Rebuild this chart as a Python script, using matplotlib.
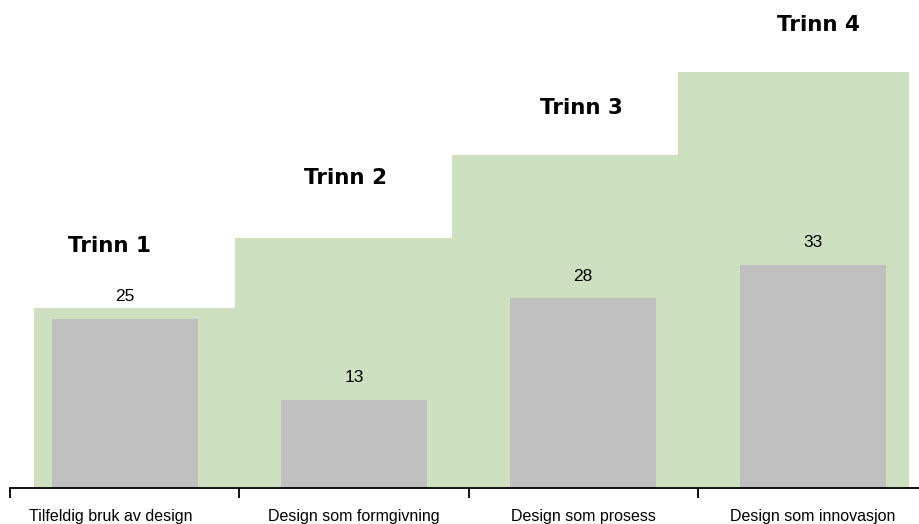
import numpy as np
import matplotlib.pyplot as plt
from matplotlib.transforms import ScaledTranslation

# Data.
categories = ['Tilfeldig bruk av design', 'Design som formgivning',
              'Design som prosess', 'Design som innovasjon']
values = [25, 13, 28, 33]
steps = ['Trinn 1', 'Trinn 2', 'Trinn 3', 'Trinn 4']
step_heights = [26.6, 36.9, 49.2, 61.4]
step_edges = [-0.395, 0.48, 1.426, 2.415, 3.42]

# Layout (pixels of the 919x524 reference).
W, H = 919, 524
px_per_cat = 229.3
px_per_unit = 6.77
base_px = 488
left_px = 10

fig = plt.figure(figsize=(W / 100, H / 100), dpi=100)
ax = fig.add_axes([left_px / W, (H - base_px) / H, (W - left_px) / W, base_px / H])
ax.set_xlim(-0.5, -0.5 + (W - left_px) / px_per_cat)
ax.set_ylim(0, base_px / px_per_unit)

# Green step background.
ax.stairs(step_heights, step_edges, fill=True, color='#cde1c1', baseline=0)

# Gray bars.
x = np.arange(len(values))
ax.bar(x, values, width=0.637, color='#c0c0c0', zorder=2)

for xi, v in zip(x, values):
    ax.annotate(str(v), (xi, v), xytext=(0, 10.5), textcoords='offset points',
                ha='center', va='bottom', fontsize=12.5,
                family='Liberation Sans')

# Step labels.
label_x = [-0.064, 0.964, 1.99, 3.025]
label_y = [35.7, 45.8, 56.1, 68.4]
for lx, ly, s in zip(label_x, label_y, steps):
    ax.text(lx, ly, s, ha='center', va='center', fontsize=15.5,
            fontweight='bold', family='DejaVu Sans')

# Axes styling.
for side in ['top', 'right', 'left']:
    ax.spines[side].set_visible(False)
ax.spines['bottom'].set_linewidth(1.3)
ax.set_yticks([])
ax.set_xticks(x)
ax.set_xticklabels(categories, fontsize=11.5, family='Liberation Sans')
ax.tick_params(axis='x', which='major', length=0, pad=15)
ax.set_xticks(np.arange(len(values)) - 0.5, minor=True)
ax.tick_params(axis='x', which='minor', length=7, width=1.3, direction='out')

# First label sits a little left of its category centre in the reference.
first = ax.get_xticklabels()[0]
first.set_transform(first.get_transform() + ScaledTranslation(-0.14, 0, fig.dpi_scale_trans))

plt.savefig('out.png', dpi=100)
